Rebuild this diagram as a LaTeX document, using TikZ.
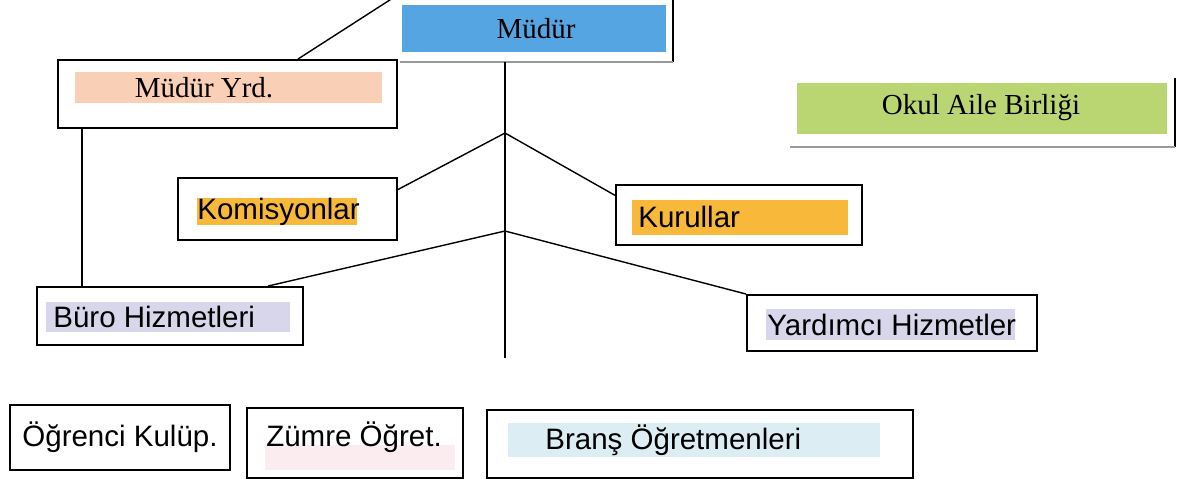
\documentclass[tikz,border=0pt]{standalone}
\usepackage{fontspec}
\setmainfont{Liberation Serif}
\setsansfont{Liberation Sans}
\usetikzlibrary{calc}

\definecolor{mudurblue}{HTML}{55A5E2}
\definecolor{yrdpeach}{HTML}{F9D0B6}
\definecolor{okulgreen}{HTML}{B9D672}
\definecolor{kurulorange}{HTML}{F8B83A}
\definecolor{hizmetlilac}{HTML}{D8D6EA}
\definecolor{bransblue}{HTML}{DCEEF3}
\definecolor{zumrepink}{HTML}{FBEDEF}

\begin{document}
\begin{tikzpicture}[x=0.02cm, y=-0.02cm,
    box/.style={draw, line width=1.1pt, inner sep=0},
    frameonly/.style={inner sep=0},
    seriflabel/.style={font=\fontsize{16.5}{20}\selectfont, inner sep=0},
    sanslabel/.style={font=\sffamily\fontsize{16.8}{20}\selectfont, inner sep=0},
    link/.style={thick}]
    \clip (0,0) rectangle (1177,485);

    % Mudur (only right and bottom edge of the frame show)
    \node[frameonly, minimum width=5.46cm, minimum height=1.36cm] (mudur) at (536.5,28) {};
    \fill[mudurblue] (402,5) rectangle (666,52);
    \node[seriflabel] (mudurtxt) at (536,29) {Müdür};
    \draw[line width=1.1pt] (mudur.north east) -- (mudur.south east);
    \draw[line width=1.1pt, black!40] (mudur.south east) -- (mudur.south west);

    % Mudur Yrd.
    \node[box, minimum width=6.78cm, minimum height=1.36cm] (yrd) at (227.5,94) {};
    \fill[yrdpeach] (75,72) rectangle (382,103);
    \node[seriflabel] (yrdtxt) at (204,88) {Müdür Yrd.};

    % Okul Aile Birligi
    \node[frameonly, minimum width=7.7cm, minimum height=1.38cm] (okul) at (982.5,112.5) {};
    \fill[okulgreen] (797,83) rectangle (1167,134);
    \node[seriflabel] (okultxt) at (981,108) {Okul Aile Birliği};
    \draw[line width=1.1pt] (okul.north east) -- (okul.south east);
    \draw[line width=1.1pt, black!40] (okul.south east) -- (okul.south west);

    % Komisyonlar and Kurullar
    \node[box, minimum width=4.38cm, minimum height=1.24cm] (kom) at (287.5,209) {};
    \fill[kurulorange] (197,198) rectangle (357,225);
    \node[sanslabel, anchor=west] (komtxt) at (197,212) {Komisyonlar};
    \node[box, minimum width=4.92cm, minimum height=1.2cm] (kur) at (739,215) {};
    \fill[kurulorange] (632,200) rectangle (848,235);
    \node[sanslabel, anchor=west] (kurtxt) at (638,217) {Kurullar};

    % Buro and Yardimci Hizmetler
    \node[box, minimum width=5.32cm, minimum height=1.16cm] (buro) at (170,316) {};
    \fill[hizmetlilac] (46,302) rectangle (290,332);
    \node[sanslabel, anchor=west] (burotxt) at (53,317) {Büro Hizmetleri};
    \node[box, minimum width=5.8cm, minimum height=1.12cm] (yard) at (892,323) {};
    \fill[hizmetlilac] (766,309) rectangle (1015,340);
    \node[sanslabel, anchor=west] (yardtxt) at (767,325) {Yardımcı Hizmetler};

    % Bottom row
    \node[box, minimum width=4.4cm, minimum height=1.3cm] (ogr) at (120,437.5) {};
    \node[sanslabel] (ogrtxt) at (120,437) {Öğrenci Kulüp.};
    \node[box, minimum width=4.32cm, minimum height=1.4cm] (zum) at (355,443) {};
    \fill[zumrepink] (265,445) rectangle (455,470);
    \node[sanslabel] (zumtxt) at (354,437) {Zümre Öğret.};
    \node[box, minimum width=8.52cm, minimum height=1.36cm] (brans) at (700,444) {};
    \fill[bransblue] (508,423) rectangle (880,457);
    \node[sanslabel, anchor=west] (branstxt) at (545,440) {Branş Öğretmenleri};

    % Trunk and branch points
    \coordinate (b1) at (505,133);
    \coordinate (b2) at (505,231);
    \coordinate (trunkend) at (505,358);
    \draw[link] (mudur.south -| b1) -- (trunkend);
    \draw[link] (kom.10) -- (b1) -- (kur.171);
    \draw[link] (buro.17) -- (b2) -- (yard.north west);

    % Mudur Yrd. links
    \draw[link] ([xshift=-2cm]yrd.north east) -- (mudur.north west);
    \draw[link] ([xshift=0.5cm]yrd.south west) -- ([xshift=0.5cm]yrd.south west |- buro.north);
\end{tikzpicture}
\end{document}
